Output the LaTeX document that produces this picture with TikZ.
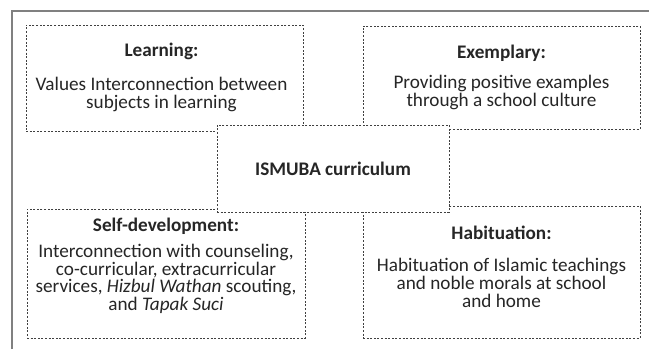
\documentclass[tikz,border=0pt]{standalone}
\usepackage{fontspec}
\setmainfont{Carlito}
\usepackage{tikz}
\usetikzlibrary{positioning}
\tikzset{
    base/.style={font=\fontsize{19.2}{17.9}\selectfont, align=center, inner sep=0pt, text=black!85},
    card/.style={draw=black!75, line width=0.8pt, dash pattern=on 2pt off 1.6pt, rectangle, fill=white, inner sep=0pt},
    cardtext/.style={base},
    frame/.style={draw=black!50, line width=1.4pt}
}

\begin{document}
\begin{tikzpicture}[x=1pt, y=1pt]
    \useasboundingbox (0,0) rectangle (649,349);
    \draw [frame] (12,0) |- (649,338);

    \node [card, minimum width=277pt, minimum height=106pt] (LearnBox) at (164.5,271) {};
    \node [card, minimum width=277pt, minimum height=103pt] (ExemBox) at (501.5,271.5) {};
    \node [card, minimum width=278pt, minimum height=129pt] (SelfBox) at (166,75.5) {};
    \node [card, minimum width=277pt, minimum height=132pt] (HabitBox) at (501.5,77) {};
    \node [card, minimum width=232pt, minimum height=87pt] (CoreBox) at (333,180.5) {};

    \node [cardtext, below=18pt of LearnBox.north, xshift=-3pt] (LearnText) {\textbf{Learning:}\\[16pt]Values Interconnection between\\subjects in learning};
    \node [cardtext, below=19pt of ExemBox.north] (ExemText) {\textbf{Exemplary:}\\[12pt]Providing positive examples\\through a school culture};
    \node [cardtext, below=9pt of SelfBox.north] (SelfText) {\textbf{Self-development:}\\[8pt]Interconnection with counseling,\\co-curricular, extracurricular\\services, \textit{Hizbul Wathan} scouting,\\and \textit{Tapak Suci}};
    \node [cardtext, below=20pt of HabitBox.north] (HabitText) {\textbf{Habituation:}\\[14pt]Habituation of Islamic teachings\\and noble morals at school\\and home};
    \node [cardtext] (CoreText) at (CoreBox.center) {\textbf{ISMUBA curriculum}};
\end{tikzpicture}
\end{document}
